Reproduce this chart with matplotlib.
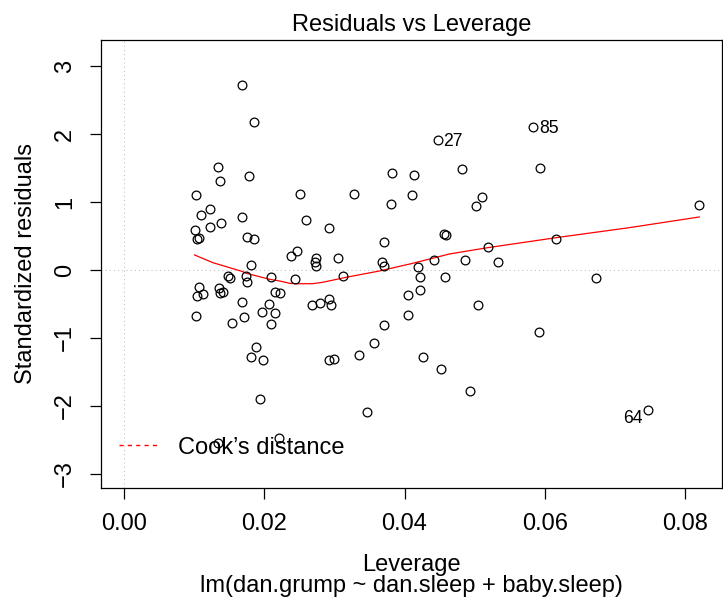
import matplotlib
matplotlib.use("Agg")
import matplotlib.pyplot as plt
from matplotlib.lines import Line2D

plt.rcParams['font.family'] = ['Liberation Sans', 'DejaVu Sans']

# Leverage (hat values) and standardized residuals of the fitted model
leverage = [
    0.01683, 0.01849, 0.01337, 0.01369, 0.01778, 0.01023, 0.02504, 0.01227, 0.01105, 0.01688,
    0.01233, 0.01384, 0.01009, 0.01038, 0.01070, 0.01749, 0.01853, 0.02383, 0.02461, 0.01806,
    0.01489, 0.01517, 0.01745, 0.01749, 0.02101, 0.02440, 0.01066, 0.01048, 0.01127, 0.01355,
    0.01375, 0.01412, 0.01683, 0.02158, 0.02226, 0.02067, 0.01963, 0.02158, 0.01028, 0.01546,
    0.01717, 0.02091, 0.01882, 0.01816, 0.01977, 0.01944, 0.02212, 0.01347, 0.04473, 0.03818,
    0.04137, 0.04817, 0.03277, 0.04108, 0.03814, 0.05019, 0.05109, 0.02599, 0.02917, 0.03714,
    0.04558, 0.04592, 0.02732, 0.02722, 0.02742, 0.03055, 0.03681, 0.03704, 0.04426, 0.04867,
    0.04198, 0.03130, 0.04222, 0.04582, 0.02679, 0.02799, 0.02917, 0.02950, 0.04046, 0.04222,
    0.04046, 0.05042, 0.03704, 0.03562, 0.03358, 0.02917, 0.02992, 0.04269, 0.04515, 0.04934,
    0.03468, 0.05831, 0.05930, 0.08198, 0.06158, 0.05194, 0.05337, 0.06727, 0.05910, 0.07472,
]
std_resid = [
    2.721, 2.172, 1.510, 1.313, 1.378, 1.103, 1.118, 0.893, 0.813, 0.779,
    0.637, 0.696, 0.588, 0.456, 0.466, 0.490, 0.451, 0.206, 0.279, 0.066,
    -0.088, -0.113, -0.088, -0.176, -0.107, -0.137, -0.246, -0.382, -0.353, -0.265,
    -0.343, -0.324, -0.475, -0.324, -0.343, -0.496, -0.613, -0.632, -0.676, -0.775,
    -0.696, -0.794, -1.137, -1.279, -1.324, -1.901, -2.471, -2.540, 1.916, 1.431,
    1.401, 1.481, 1.113, 1.107, 0.966, 0.946, 1.078, 0.735, 0.622, 0.407,
    0.525, 0.515, 0.172, 0.113, 0.059, 0.172, 0.122, 0.054, 0.151, 0.140,
    0.044, -0.088, -0.110, -0.103, -0.515, -0.490, -0.422, -0.519, -0.368, -0.294,
    -0.662, -0.519, -0.813, -1.069, -1.250, -1.324, -1.313, -1.275, -1.460, -1.775,
    -2.088, 2.107, 1.496, 0.960, 0.460, 0.343, 0.118, -0.122, -0.916, -2.063,
]

# Observation numbers shown next to the most extreme points
id_labels = ["27", "85", "64"]
id_index = [48, 91, 99]
id_side = ["right", "right", "left"]

# Smoothed trend of the residuals against leverage
smooth_lev = [0.01009, 0.01270, 0.01697, 0.01745, 0.02077, 0.02219, 0.02362, 0.02457,
              0.02693, 0.02836, 0.03169, 0.03643, 0.04117, 0.04639, 0.05184, 0.06158,
              0.07201, 0.08198]
smooth_resid = [0.2206, 0.1074, -0.0250, -0.0485, -0.1368, -0.1618, -0.1956, -0.2030,
                -0.2015, -0.1809, -0.1074, -0.0147, 0.0985, 0.2353, 0.3279, 0.4750,
                0.6221, 0.7794]

x_ticks = [0.00, 0.02, 0.04, 0.06, 0.08]
y_ticks = [-3, -2, -1, 0, 1, 2, 3]

FS = 17

fig = plt.figure(figsize=(7.23, 6.0), dpi=100)
ax = fig.add_axes([0.1393, 0.1868, 0.999 - 0.1393, 0.9338 - 0.1868])
ax.set_xlim(-0.00328, 0.08526)
ax.set_ylim(-3.205, 3.386)

# reference lines at zero
dotted = (0, (1, 3))
ax.axhline(0, color='#BEBEBE', lw=0.75, ls=dotted, zorder=1)
ax.axvline(0, color='#BEBEBE', lw=0.75, ls=dotted, zorder=1)

ax.plot(smooth_lev, smooth_resid, color='red', lw=0.9, zorder=2,
        solid_joinstyle='round')
ax.plot(leverage, std_resid, ls='none', marker='o', mfc='none', mec='black',
        ms=6.3, mew=0.9, zorder=3)

for lab, idx, side in zip(id_labels, id_index, id_side):
    if side == "right":
        ax.annotate(lab, (leverage[idx], std_resid[idx]), xytext=(4.1, -4.6),
                    textcoords='offset points', ha='left', va='baseline', fontsize=12.7)
    else:
        ax.annotate(lab, (leverage[idx], std_resid[idx]), xytext=(-4.1, -9.1),
                    textcoords='offset points', ha='right', va='baseline', fontsize=12.7)

ax.set_xticks(x_ticks)
ax.set_xticklabels([f"{t:.2f}" for t in x_ticks])
ax.set_yticks(y_ticks)
ax.set_yticklabels([f"{t}".replace('-', '\u2212') for t in y_ticks])

for sp in ax.spines.values():
    sp.set_linewidth(0.9)
    sp.set_color('black')
ax.tick_params(direction='out', length=7.7, width=0.9, labelsize=FS, pad=10, colors='black')
ax.tick_params(axis='y', labelrotation=90)
for lbl in ax.get_yticklabels():
    lbl.set_va('center')

ax.set_title("Residuals vs Leverage", fontsize=FS, pad=6.5)

cx = 411.5 / 723
fig.text(cx, 1 - 570.7 / 600, "Leverage", ha='center', va='baseline', fontsize=FS)
fig.text(cx, 1 - 591.7 / 600, "lm(dan.grump ~ dan.sleep + baby.sleep)",
         ha='center', va='baseline', fontsize=FS)
fig.text(32 / 723, 1 - 263.8 / 600, "Standardized residuals", rotation=90,
         rotation_mode='anchor', ha='center', va='baseline', fontsize=FS)

handle = Line2D([], [], color='#FF0000', lw=1.0, ls=(0, (3, 3)))
ax.legend([handle], ["Cook\u2019s distance"], loc='center left',
          bbox_to_anchor=(0.0299, 0.0897), frameon=False, fontsize=FS,
          borderpad=0, borderaxespad=0, handlelength=1.695, handletextpad=0.805)

fig.savefig("out.png", dpi=100)
